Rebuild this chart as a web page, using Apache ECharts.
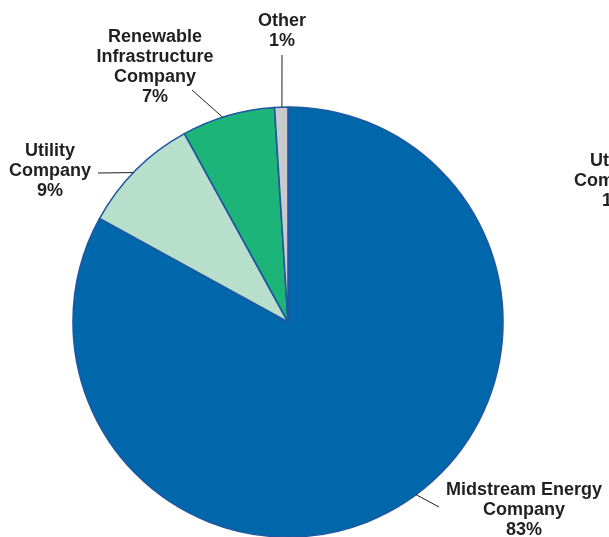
<!DOCTYPE html>
<html>
<head>
<meta charset="utf-8">
<script src="https://cdn.jsdelivr.net/npm/echarts@6/dist/echarts.min.js"></script>
<style>
html,body{margin:0;padding:0;background:#fff;}
#c{width:609px;height:537px;}
</style>
</head>
<body>
<div id="c"></div>
<script>
const categories = ['Midstream Energy\nCompany', 'Utility\nCompany', 'Renewable\nInfrastructure\nCompany', 'Other'];
const values = [83, 9, 7, 1];
const colors = ['#0067AB', '#B8DFCB', '#1CB479', '#C9CACC'];
// layout only: label centres, leader-line outer ends, anchor fraction along each slice's arc
const labelPos = [[524, 510], [50, 171], [155, 67], [282, 31]];
const leaderEnd = [[439, 507], [98, 173], [192, 90], [282, 55]];
const leaderFrac = [0.48, 0.47, 0.44, 0.55];

const chart = echarts.init(document.getElementById('c'), null, {renderer: 'canvas'});
const FONT = 'Liberation Sans, Arial, sans-serif';
const textStyle = {fontFamily: FONT, fontWeight: 'bold', fontSize: 18, lineHeight: 20, color: '#231F20'};

chart.setOption({
  animation: false,
  backgroundColor: '#ffffff',
  series: [{
    type: 'pie',
    center: [288, 322],
    radius: [0, 215],
    startAngle: 90,
    clockwise: true,
    avoidLabelOverlap: false,
    data: categories.map((c, i) => ({name: c, value: values[i], itemStyle: {color: colors[i]}})),
    itemStyle: {borderColor: '#1D58A0', borderWidth: 1.6},
    label: Object.assign({show: true, formatter: '{b}\n{c}%', align: 'center'}, textStyle),
    labelLine: {show: false},
    labelLayout: function (p) {
      const pos = labelPos[p.dataIndex];
      return {x: pos[0], y: pos[1], align: 'center', verticalAlign: 'middle'};
    },
    emphasis: {disabled: true}
  }]
});

// leader lines anchored on the arcs computed by the library's pie layout
const data = chart.getModel().getSeriesByIndex(0).getData();
const graphics = [];
for (let i = 0; i < values.length; i++) {
  const L = data.getItemLayout(i);
  const a = L.startAngle + leaderFrac[i] * (L.endAngle - L.startAngle);
  const px = L.cx + L.r * Math.cos(a);
  const py = L.cy + L.r * Math.sin(a);
  graphics.push({
    type: 'line', silent: true, z: 10,
    shape: {x1: px, y1: py, x2: leaderEnd[i][0], y2: leaderEnd[i][1]},
    style: {stroke: '#231F20', lineWidth: 1}
  });
}
// partially visible label of a neighbouring chart at the right edge
graphics.push({
  type: 'text', x: 615, y: 151, silent: true,
  style: {text: 'Utility\nCompany\n1%', align: 'center', verticalAlign: 'top',
          fill: '#231F20', font: 'bold 18px "Liberation Sans", Arial, sans-serif', lineHeight: 20}
});
chart.setOption({graphic: graphics});
</script>
</body>
</html>
